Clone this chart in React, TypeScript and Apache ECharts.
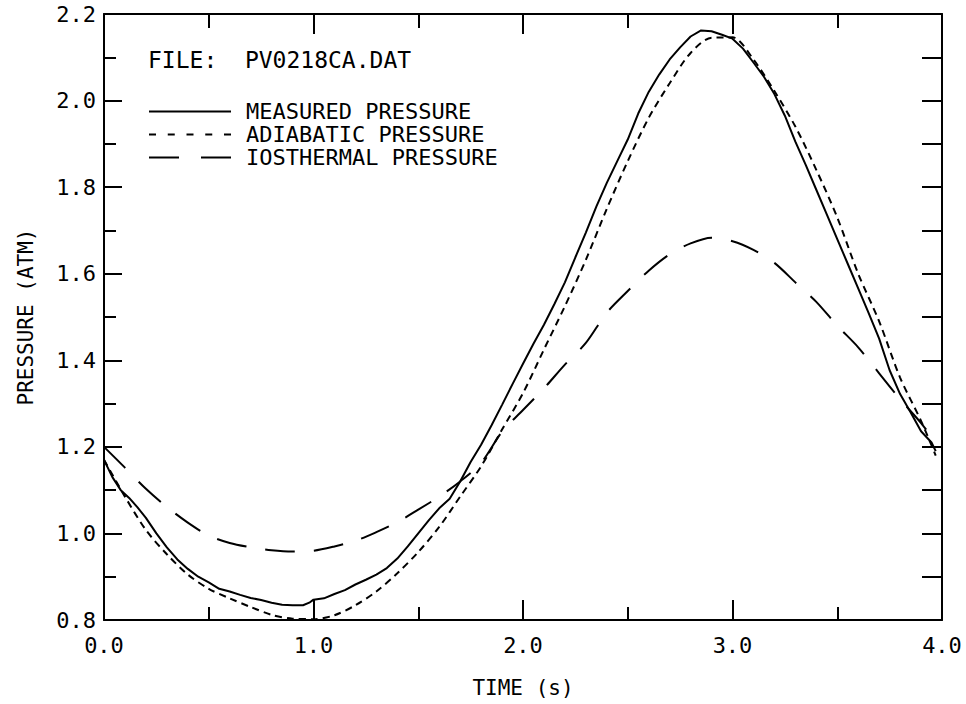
import React, { useEffect, useRef } from "react";
import * as echarts from "echarts";

// Time (s) samples for the measured trace
const measuredTime = [
  0.0, 0.04, 0.08, 0.12, 0.16, 0.2, 0.25, 0.3, 0.35, 0.4, 0.45, 0.5, 0.55, 0.6, 0.65, 0.7, 0.75, 0.8,
  0.85, 0.9, 0.95, 0.98, 1.0, 1.05, 1.1, 1.15, 1.2, 1.25, 1.3, 1.35, 1.4, 1.45, 1.5, 1.55, 1.6, 1.65,
  1.7, 1.75, 1.8, 1.85, 1.9, 1.95, 2.0, 2.05, 2.1, 2.15, 2.2, 2.25, 2.3, 2.35, 2.4, 2.45, 2.5, 2.55,
  2.6, 2.65, 2.7, 2.75, 2.8, 2.85, 2.9, 2.95, 3.0, 3.05, 3.1, 3.15, 3.2, 3.25, 3.3, 3.35, 3.4, 3.45,
  3.5, 3.55, 3.6, 3.65, 3.7, 3.75, 3.8, 3.85, 3.9, 3.95, 3.97,
];
// Measured pressure (ATM)
const measuredPressure = [
  1.17, 1.13, 1.1, 1.082, 1.06, 1.036, 1.0, 0.968, 0.94, 0.918, 0.9, 0.887, 0.872, 0.866, 0.858, 0.851,
  0.846, 0.84, 0.835, 0.834, 0.834, 0.84, 0.847, 0.85, 0.86, 0.869, 0.882, 0.893, 0.905, 0.92, 0.942,
  0.97, 1.0, 1.03, 1.058, 1.08, 1.12, 1.165, 1.205, 1.25, 1.297, 1.345, 1.392, 1.438, 1.482, 1.53,
  1.58, 1.638, 1.695, 1.755, 1.81, 1.86, 1.91, 1.97, 2.02, 2.06, 2.095, 2.123, 2.148, 2.162, 2.16,
  2.152, 2.143, 2.12, 2.088, 2.055, 2.015, 1.965, 1.905, 1.851, 1.794, 1.737, 1.68, 1.623, 1.566, 1.509,
  1.45, 1.377, 1.322, 1.28, 1.236, 1.21, 1.19,
];
// Time (s) samples for the model traces
const modelTime = [
  0.0, 0.1, 0.2, 0.3, 0.4, 0.5, 0.6, 0.7, 0.8, 0.9, 1.0, 1.1, 1.2, 1.3, 1.4, 1.5, 1.6, 1.7, 1.8, 1.9,
  2.0, 2.1, 2.2, 2.3, 2.4, 2.5, 2.6, 2.7, 2.8, 2.9, 3.0, 3.1, 3.2, 3.3, 3.4, 3.5, 3.6, 3.7, 3.8, 3.9,
  3.97,
];
const adiabaticPressure = [
  1.17, 1.085, 1.008, 0.952, 0.905, 0.872, 0.85, 0.83, 0.812, 0.803, 0.802, 0.811, 0.834, 0.866, 0.908,
  0.957, 1.015, 1.085, 1.155, 1.24, 1.324, 1.425, 1.525, 1.632, 1.75, 1.86, 1.96, 2.04, 2.11, 2.145,
  2.146, 2.095, 2.022, 1.94, 1.84, 1.73, 1.6, 1.49, 1.36, 1.26, 1.18,
];
const isothermalPressure = [
  1.2, 1.152, 1.103, 1.061, 1.025, 0.995, 0.978, 0.968, 0.961, 0.958, 0.96, 0.97, 0.983, 1.003, 1.026,
  1.055, 1.085, 1.12, 1.163, 1.235, 1.285, 1.335, 1.39, 1.44, 1.51, 1.56, 1.607, 1.645, 1.67, 1.683,
  1.675, 1.655, 1.625, 1.58, 1.535, 1.48, 1.43, 1.37, 1.31, 1.255, 1.21,
];

const seriesNames = ["MEASURED PRESSURE", "ADIABATIC PRESSURE", "IOSTHERMAL PRESSURE"];
const fileLabel = "FILE:  PV0218CA.DAT";
const xAxisTitle = "TIME (s)";
const yAxisTitle = "PRESSURE (ATM)";

const FONT = "'DejaVu Sans Mono', monospace";

function zip(xs: number[], ys: number[]) {
  return xs.map((x, i) => [x, ys[i]]);
}

export default function App() {
  const ref = useRef<HTMLDivElement>(null);
  useEffect(() => {
    if (!ref.current) return;
    const chart = echarts.init(ref.current, null, { renderer: "svg" });
    const black = "#000";
    const axisCommon = {
      min: 0,
      max: 4,
      interval: 1,
      axisLine: { show: true, onZero: false, lineStyle: { color: black, width: 2 } },
      splitLine: { show: false },
    };
    const yCommon = {
      type: "value",
      min: 0.8,
      max: 2.2,
      interval: 0.2,
      axisLine: { show: true, onZero: false, lineStyle: { color: black, width: 2 } },
      splitLine: { show: false },
    };
    chart.setOption({
      animation: false,
      backgroundColor: "#fff",
      grid: { left: 104, top: 14, right: 24, bottom: 84, containLabel: false, outerBoundsMode: "none" },
      xAxis: [
        {
          type: "value",
          position: "bottom",
          ...axisCommon,
          axisTick: { show: true, inside: true, length: 20, lineStyle: { color: black, width: 2 } },
          minorTick: { show: true, splitNumber: 2, length: 13, lineStyle: { color: black, width: 2 } },
          axisLabel: {
            show: true,
            margin: 14,
            color: black,
            fontFamily: FONT,
            fontSize: 22,
            formatter: (v: number) => v.toFixed(1),
          },
          name: xAxisTitle,
          nameLocation: "middle",
          nameGap: 57,
          nameTextStyle: { color: black, fontFamily: FONT, fontSize: 21 },
        },
        {
          type: "value",
          position: "top",
          ...axisCommon,
          axisTick: { show: true, inside: true, length: 20, lineStyle: { color: black, width: 2 } },
          minorTick: { show: true, splitNumber: 2, length: 14, lineStyle: { color: black, width: 2 } },
          axisLabel: { show: false },
        },
      ],
      yAxis: [
        {
          ...yCommon,
          position: "left",
          axisTick: { show: true, inside: true, length: 18, lineStyle: { color: black, width: 2 } },
          minorTick: { show: true, splitNumber: 2, length: 12, lineStyle: { color: black, width: 2 } },
          axisLabel: {
            show: true,
            margin: 8,
            color: black,
            fontFamily: FONT,
            fontSize: 22,
            formatter: (v: number) => v.toFixed(1),
          },
          name: yAxisTitle,
          nameLocation: "middle",
          nameGap: 68,
          nameTextStyle: { color: black, fontFamily: FONT, fontSize: 21 },
        },
        {
          ...yCommon,
          position: "right",
          axisTick: { show: true, inside: true, length: 20, lineStyle: { color: black, width: 2 } },
          minorTick: { show: true, splitNumber: 2, length: 20, lineStyle: { color: black, width: 2 } },
          axisLabel: { show: false },
        },
      ],
      legend: {
        orient: "vertical",
        left: 148,
        top: 100,
        padding: 0,
        itemGap: 0,
        itemWidth: 82,
        itemHeight: 14,
        itemStyle: { opacity: 0 },
        textStyle: {
          color: black,
          fontFamily: FONT,
          fontSize: 22,
          lineHeight: 23,
          padding: [0, 0, 0, 10],
        },
        data: [
          { name: seriesNames[0] },
          { name: seriesNames[1], lineStyle: { type: [7, 11.75] } },
          { name: seriesNames[2], lineStyle: { type: [30, 22] } },
        ],
      },
      graphic: [
        {
          type: "text",
          left: 148,
          top: 48,
          style: { text: fileLabel, fill: black, font: `23px ${FONT}` },
        },
      ],
      series: [
        {
          name: seriesNames[0],
          type: "line",
          data: zip(measuredTime, measuredPressure),
          showSymbol: false,
          symbol: "none",
          lineStyle: { color: black, width: 2, type: "solid" },
          itemStyle: { color: black },
        },
        {
          name: seriesNames[1],
          type: "line",
          data: zip(modelTime, adiabaticPressure),
          showSymbol: false,
          symbol: "none",
          smooth: 0.3,
          lineStyle: { color: black, width: 2, type: [7, 5] },
          itemStyle: { color: black },
        },
        {
          name: seriesNames[2],
          type: "line",
          data: zip(modelTime, isothermalPressure),
          showSymbol: false,
          symbol: "none",
          smooth: 0.3,
          lineStyle: { color: black, width: 2, type: [30, 19] },
          itemStyle: { color: black },
        },
      ],
    });
    return () => chart.dispose();
  }, []);
  return (
    <div
      ref={ref}
      style={{ position: "fixed", left: 0, top: 0, width: 966, height: 704, background: "#fff" }}
    />
  );
}
